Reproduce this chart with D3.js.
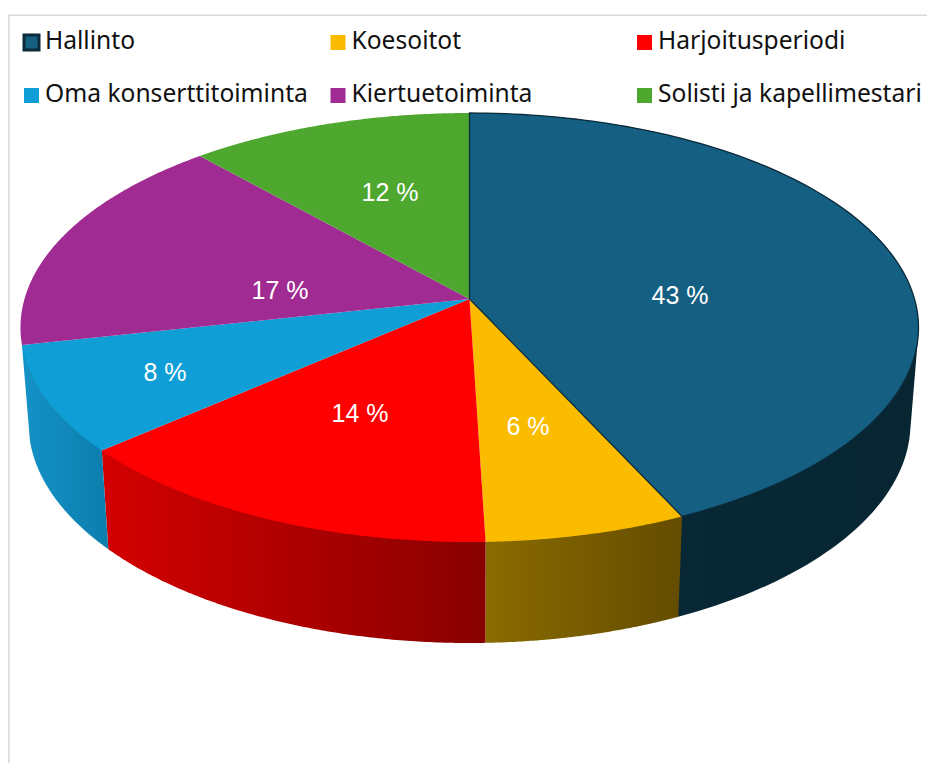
<!DOCTYPE html>
<html>
<head>
<meta charset="utf-8">
<script src="https://cdn.jsdelivr.net/npm/d3@7"></script>
<style>
  html, body { margin: 0; background: #fff; overflow: hidden; }
  text { font-family: "Noto Sans", sans-serif; }
</style>
</head>
<body>
<svg id="chart"></svg>
<script>
const categories = ['Hallinto', 'Koesoitot', 'Harjoitusperiodi', 'Oma konserttitoiminta', 'Kiertuetoiminta', 'Solisti ja kapellimestari'];
const shares = [43.1, 6.4, 14.1, 8.0, 16.8, 11.6];
const topColors = ['#156082', '#FBBC00', '#FF0000', '#0F9ED5', '#A02B93', '#4EA72E'];
const wallLeftColors = ['#08293a', '#8a6b00', '#d40000', '#1592c7'];
const wallRightColors = ['#072632', '#644c00', '#880000', '#0c7ead'];

const width = 927, height = 763;

// top and bottom rim of the 3D pie, both are ellipses because of the perspective
const topRim = { cx: 469.5, cy: 327.5, rx: 449, ry: 214.5 };
const bottomRim = { cx: 469.5, cy: 423, rx: 441, ry: 220 };
// the hub sits above the middle of the ellipse
const hubShift = (299 - topRim.cy) / topRim.ry;

// label centres, moved by hand in the original chart
const labelCenters = [[680, 295], [528, 426], [360, 413], [165, 372], [280, 290], [390, 192]];

const svg = d3.select('#chart').attr('width', width).attr('height', height);

// projective map from the unit disc to an ellipse, keeps straight spokes straight
function project(angle, r, rim) {
  const x = r * Math.sin(angle), y = -r * Math.cos(angle);
  const d = 1 + hubShift * y;
  const px = x * Math.sqrt(1 - hubShift * hubShift) / d;
  const py = (y + hubShift) / d;
  return [rim.cx + rim.rx * px, rim.cy + rim.ry * py];
}

function rimPoints(a0, a1, rim) {
  return d3.range(0, 121).map(i => project(a0 + (a1 - a0) * i / 120, 1, rim));
}

const line = d3.line();
const slices = d3.pie().sort(null).value(d => d)(shares);
// the last two slices face away from the viewer, their walls stay hidden
const frontSlices = slices.slice(0, 4);

// Frame
svg.append('path')
  .attr('d', `M9,${height}V15.3H${width}`)
  .attr('fill', 'none')
  .attr('stroke', '#d9d9d9')
  .attr('stroke-width', 1.6);

// Wall gradients
const defs = svg.append('defs');
frontSlices.forEach((s, i) => {
  const g = defs.append('linearGradient').attr('id', `wall${i}`);
  g.append('stop').attr('offset', '0%').attr('stop-color', wallLeftColors[i]);
  g.append('stop').attr('offset', '100%').attr('stop-color', wallRightColors[i]);
});

// Walls, drawn first so the top faces hide the back part.
// The hull also fills the tangent between both rims at the right edge.
svg.append('g').selectAll('path')
  .data(frontSlices)
  .enter().append('path')
  .attr('d', s => line(d3.polygonHull(rimPoints(s.startAngle, s.endAngle, topRim)
    .concat(rimPoints(s.startAngle, s.endAngle, bottomRim)))) + 'Z')
  .attr('fill', (s, i) => `url(#wall${i})`);

// Top faces
svg.append('g').selectAll('path')
  .data(slices)
  .enter().append('path')
  .attr('d', s => line([project(0, 0, topRim)].concat(rimPoints(s.startAngle, s.endAngle, topRim))) + 'Z')
  .attr('fill', (s, i) => topColors[i]);

// Hallinto has a dark outline in the original, it goes above the others
svg.append('path')
  .attr('d', line([project(0, 0, topRim)].concat(rimPoints(slices[0].startAngle, slices[0].endAngle, topRim))) + 'Z')
  .attr('fill', 'none')
  .attr('stroke', '#0b2a3a')
  .attr('stroke-width', 1.3);

// Percent labels
svg.append('g').selectAll('text')
  .data(slices)
  .enter().append('text')
  .attr('x', (s, i) => labelCenters[i][0])
  .attr('y', (s, i) => labelCenters[i][1])
  .attr('dy', '0.35em')
  .attr('text-anchor', 'middle')
  .attr('fill', '#fff')
  .style('font-family', '"Liberation Sans", sans-serif')
  .style('font-size', '25px')
  .text(s => `${Math.round(s.value)} %`);

// Legend, three columns and two rows
const legendX = d3.scalePoint().domain([0, 1, 2]).range([24, 637]);
const legendY = d3.scalePoint().domain([0, 1]).range([35, 88]);

const legend = svg.append('g').selectAll('g')
  .data(categories)
  .enter().append('g')
  .attr('transform', (d, i) => `translate(${legendX(i % 3)},${legendY(Math.floor(i / 3))})`);

legend.append('rect')
  .attr('width', 15)
  .attr('height', 15)
  .attr('fill', (d, i) => topColors[i])
  .attr('stroke', (d, i) => i === 0 ? '#0b2a3a' : 'none')
  .attr('stroke-width', 3);

legend.append('text')
  .attr('x', 21)
  .attr('y', 14)
  .attr('fill', '#111')
  .style('font-size', '24.6px')
  .text(d => d);
</script>
</body>
</html>
